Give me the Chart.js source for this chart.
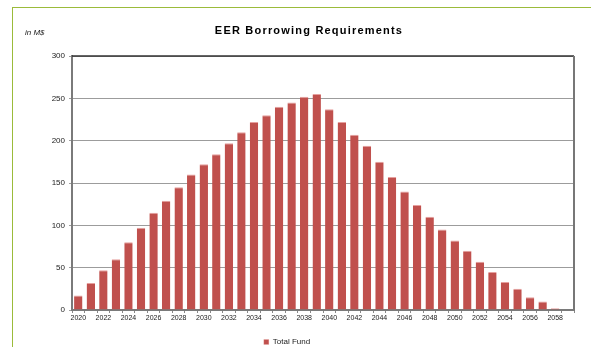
<!DOCTYPE html>
<html>
<head>
<meta charset="utf-8">
<script src="https://cdn.jsdelivr.net/npm/chart.js@4"></script>
<style>
  html, body { margin: 0; padding: 0; background: #fff; }
  #wrap { position: relative; width: 591px; height: 347px; }
  #marco { position: absolute; left: 12px; top: 7px; right: 0; bottom: 0;
           border-top: 1px solid #9bbb3a; border-left: 1px solid #9bbb3a; }
  canvas { position: absolute; left: 0; top: 0; }
</style>
</head>
<body>
<div id="wrap">
  <div id="marco"></div>
  <canvas id="grafica" width="591" height="347"></canvas>
</div>
<script>
// datos
const anios = [];
for (let a = 2020; a <= 2059; a++) anios.push(String(a));

const totalFund = [
  17, 32, 47, 60, 80, 97, 115, 129, 145, 160,
  172, 184, 197, 210, 222, 230, 240, 245, 252, 255,
  237, 222, 207, 194, 175, 157, 140, 124, 110, 95,
  82, 70, 57, 45, 33, 25, 15, 10, 2, 0
];

const ticksY = [0, 50, 100, 150, 200, 250, 300];

const titulo = 'EER Borrowing Requirements';
const unidad = 'in M$';

// plugin para el titulo, la unidad y el marco del area
const decoracion = {
  id: 'decoracion',
  afterDraw(chart) {
    const ctx = chart.ctx;
    const a = chart.chartArea;
    ctx.save();
    // borde superior oscuro y derecho gris
    ctx.strokeStyle = '#333';
    ctx.lineWidth = 1.5;
    ctx.beginPath();
    ctx.moveTo(a.left, a.top);
    ctx.lineTo(a.right, a.top);
    ctx.stroke();
    ctx.strokeStyle = '#777';
    ctx.lineWidth = 2;
    ctx.beginPath();
    ctx.moveTo(a.right, a.top);
    ctx.lineTo(a.right, a.bottom);
    ctx.stroke();

    ctx.fillStyle = '#000';
    ctx.textAlign = 'center';
    ctx.textBaseline = 'middle';
    ctx.font = 'bold 11px "Liberation Sans", Arial, sans-serif';
    if ('letterSpacing' in ctx) ctx.letterSpacing = '1.2px';
    ctx.fillText(titulo, 309, 31);
    if ('letterSpacing' in ctx) ctx.letterSpacing = '0px';

    ctx.font = 'italic 8px "Liberation Sans", Arial, sans-serif';
    ctx.textAlign = 'left';
    ctx.fillStyle = '#222';
    ctx.fillText(unidad, 25, 33);
    ctx.restore();
  }
};

const ctx = document.getElementById('grafica').getContext('2d');
const chartInstance = new Chart(ctx, {
  type: 'bar',
  data: {
    labels: anios,
    datasets: [{
      label: 'Total Fund',
      data: totalFund,
      backgroundColor: '#c0504d',
      borderColor: '#e6a09e',
      borderWidth: { top: 1, left: 0, right: 0, bottom: 0 },
      borderSkipped: false,
      categoryPercentage: 1,
      barPercentage: 0.67
    }]
  },
  options: {
    responsive: false,
    animation: false,
    layout: { padding: { top: 56, left: 0, right: 17, bottom: -9 } },
    scales: {
      x: {
        offset: true,
        grid: { display: true, offset: true, drawOnChartArea: false, drawTicks: true, tickLength: 3, color: '#888' },
        border: { display: true, color: '#7a7a7a', width: 2 },
        ticks: {
          autoSkip: false,
          maxRotation: 0,
          padding: 1,
          color: '#222',
          font: { family: '"Liberation Sans", Arial, sans-serif', size: 7 },
          callback: function (v, i) { return i % 2 === 0 ? this.getLabelForValue(v) : ''; }
        },
        afterFit(scale) { scale.height = 26; }
      },
      y: {
        min: 0,
        max: 300,
        afterBuildTicks(scale) { scale.ticks = ticksY.map(v => ({ value: v })); },
        grid: { color: '#9c9c9c', lineWidth: 1, tickLength: 3, drawTicks: true },
        border: { display: true, color: '#7a7a7a', width: 2 },
        ticks: {
          color: '#222',
          padding: 4,
          font: { family: '"Liberation Sans", Arial, sans-serif', size: 8 }
        },
        afterFit(scale) { scale.width = 72; }
      }
    },
    plugins: {
      title: { display: false },
      tooltip: { enabled: false },
      legend: {
        display: true,
        position: 'bottom',
        labels: {
          boxWidth: 5,
          boxHeight: 5,
          padding: 2,
          color: '#222',
          font: { family: '"Liberation Sans", Arial, sans-serif', size: 8 }
        }
      }
    }
  },
  plugins: [decoracion]
});
</script>
</body>
</html>
